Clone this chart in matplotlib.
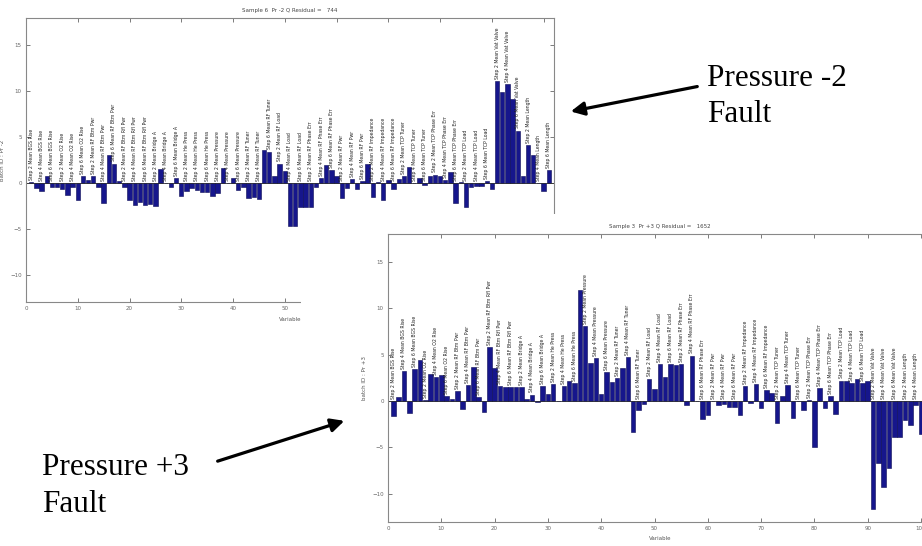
import numpy as np
import matplotlib.pyplot as plt
from matplotlib.patches import Rectangle, FancyArrowPatch

# variable index (1..101) and residual contributions
variables = np.arange(1, 102)

pr_minus2 = [0.1, -0.6, -0.9, 0.7, -0.5, -0.5, -0.7, -1.3, -0.4, -1.9,
             0.7, 0.3, 0.7, -0.4, -2.2, 3.1, 2.1, 0.2, -0.4, -1.9,
             -2.4, -2.1, -2.4, -2.3, -2.5, 1.5, 0.0, -0.4, 0.5, -1.4,
             -0.9, -0.6, -0.8, -1.0, -1.0, -1.4, -1.1, 1.6, 0.0, 0.5,
             -0.8, -0.4, -1.6, -1.5, -1.8, 3.6, 3.4, 0.8, 2.1, 1.3,
             -4.7, -4.7, -2.6, -2.6, -2.6, -0.4, 0.5, 2.0, 1.4, 0.7,
             -1.7, -0.6, 0.4, -0.7, 0.2, 2.1, -1.5, 0.1, -1.9, 0.3,
             -0.7, 0.4, 0.7, 1.7, 0.0, 0.5, -0.2, 0.8, 0.9, 0.7,
             0.3, 1.2, -2.2, 0.1, -2.6, -0.5, -0.3, -0.3, 0.2, -0.7,
             11.1, 9.9, 10.8, 9.2, 5.7, 0.7, 4.1, 3.1, 0.0, -0.9,
             1.4]

pr_plus3 = [-1.6, 0.4, 3.2, -1.3, 3.4, 4.4, 0.1, 2.9, 2.6, 2.8,
            0.5, 0.2, 1.1, -0.9, 1.7, 3.7, 0.4, -1.2, 5.8, 3.6,
            1.6, 1.5, 1.5, 1.5, 1.5, 0.2, 0.7, -0.1, 1.6, 0.8,
            1.8, 0.0, 1.6, 2.2, 1.9, 12.0, 8.1, 4.1, 4.6, 0.8,
            3.1, 2.0, 2.5, 3.6, 4.7, -3.3, -1.0, -0.3, 2.4, 1.3,
            4.0, 2.6, 4.0, 3.9, 4.0, -0.4, 4.9, 0.0, -1.9, -1.5,
            0.0, -0.4, -0.3, -0.6, -0.6, -1.5, 1.6, -0.2, 1.8, -0.7,
            1.2, 0.9, -2.4, 0.5, 1.7, -1.8, 0.0, -1.0, 0.1, -5.0,
            1.4, -0.7, 0.5, -1.4, 2.2, 2.2, 1.9, 2.4, 1.9, 2.2,
            -11.6, -6.7, -9.3, -7.2, -3.9, -3.9, -2.0, -2.6, -0.4, -3.5,
            -1.0]

# bar annotations (every second variable)
sensors = ['BGS Rise', 'O2 Rise', 'RF Btm Pwr', 'RF Btm Rfl Pwr', 'Bridge A',
           'He Press', 'Pressure', 'RF Tuner', 'RF Load', 'RF Phase Err',
           'RF Pwr', 'RF Impedance', 'TCP Tuner', 'TCP Phase Err',
           'TCP Load', 'Vat Valve', 'Length']
steps = [2, 4, 6]
bar_labels = ['Step %d Mean %s' % (s, name) for name in sensors for s in steps]
label_vars = variables[::2]

bar_color = '#16168c'
W, H = 922, 546


def px(x, y):
    # pixel position (from top-left) -> figure fraction
    return x / W, 1 - y / H


def draw_panel(ax, values, title, ylabel):
    ax.bar(variables, values, width=0.85, color=bar_color,
           edgecolor='#0b0b55', linewidth=0.4)
    ax.axhline(0, color='#222222', lw=0.5)
    for x, name in zip(label_vars, bar_labels):
        v = values[x - 1]
        ax.text(x, max(v, 0) + 0.25, name, rotation=90, ha='center',
                va='bottom', fontsize=3.3, color='#222222')
    ax.set_xlim(0, 102)
    ax.set_ylim(-13, 18)
    ax.set_xticks(range(0, 101, 10))
    ax.set_yticks([-10, -5, 0, 5, 10, 15])
    ax.tick_params(direction='in', top=True, right=True, labelsize=4,
                   colors='#666666', length=3, width=0.6, pad=3)
    for sp in ax.spines.values():
        sp.set_color('#888888')
        sp.set_linewidth(0.8)
    ax.set_title(title, fontsize=4, color='#444444', pad=4)
    ax.set_xlabel('Variable', fontsize=4, color='#555555', labelpad=4)
    ax.set_ylabel(ylabel, fontsize=4, color='#555555', labelpad=4)


fig = plt.figure(figsize=(W / 100, H / 100), dpi=100)

# upper screenshot
x0, y1 = px(26, 302)
ax1 = fig.add_axes([x0, y1, 528 / W, 284 / H], zorder=1)
draw_panel(ax1, pr_minus2, 'Sample 6  Pr -2 Q Residual =   744', 'batch ID : Pr -2')

# white sheet of the lower screenshot covering the first one
x0, y0 = px(301, H)
fig.add_artist(Rectangle((x0, 0), 1 - x0, (H - 214) / H, transform=fig.transFigure,
                         facecolor='white', edgecolor='none', zorder=2))

# lower screenshot
x0, y1 = px(388, 521.7)
ax2 = fig.add_axes([x0, y1, 102 * 5.33 / W, 287.7 / H], zorder=3)
draw_panel(ax2, pr_plus3, 'Sample 3  Pr +3 Q Residual =   1652', 'batch ID : Pr +3')

# slide annotations
serif = dict(family='Liberation Serif', fontsize=22.5, color='black', zorder=5)
fig.text(*px(707, 86), 'Pressure -2', **serif)
fig.text(*px(707, 122), 'Fault', **serif)
fig.text(*px(42, 475), 'Pressure +3', **serif)
fig.text(*px(42, 512), 'Fault', **serif)

for tail, head in [((700, 86), (568, 112)), ((215, 462), (347, 420))]:
    fig.add_artist(FancyArrowPatch(px(*tail), px(*head), transform=fig.transFigure,
                                   arrowstyle='-|>', mutation_scale=20, lw=2.3,
                                   color='black', zorder=5))

fig.savefig('out.png', dpi=100)
